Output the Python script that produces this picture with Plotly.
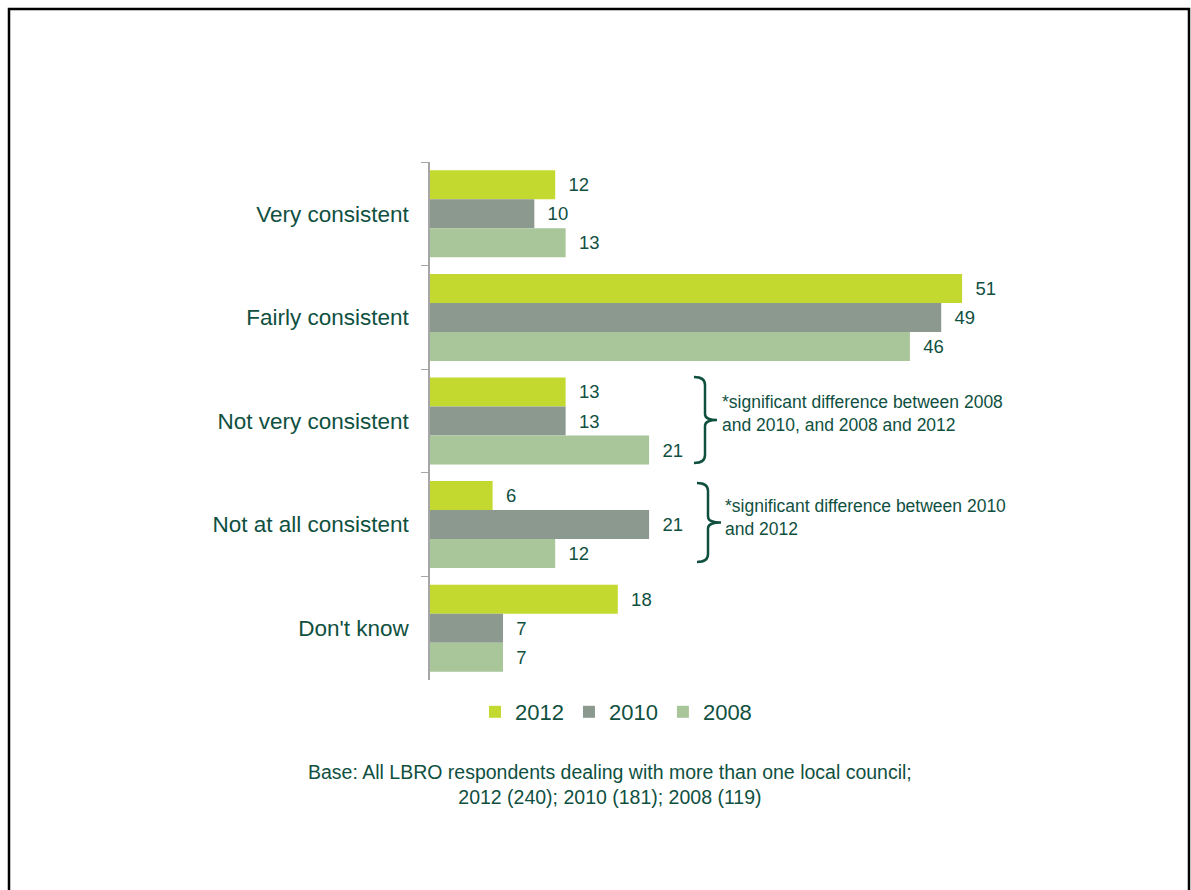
import plotly.graph_objects as go

# Survey responses (% of respondents)
categories = ["Very consistent", "Fairly consistent", "Not very consistent",
              "Not at all consistent", "Don't know"]
years = ["2012", "2010", "2008"]
values_2012 = [12, 51, 13, 6, 18]
values_2010 = [10, 49, 13, 21, 7]
values_2008 = [13, 46, 21, 12, 7]
series = [values_2012, values_2010, values_2008]
colors = ["#C3D92F", "#8B998F", "#A9C59A"]

TEXT = "#10503F"
FONT = "Liberation Sans, Arial, sans-serif"

W, H = 1191, 890
L, R, T, B = 430, 135, 162, 210
PW, PH = W - L - R, H - T - B


def px(x):
    return (x - L) / PW


def py(y):
    return (H - B - y) / PH


fig = go.Figure()
for name, vals, col in zip(years, series, colors):
    fig.add_trace(go.Bar(
        y=categories, x=vals, name=name, orientation="h",
        marker=dict(color=col, line=dict(width=0)),
        text=vals, texttemplate="  %{x}", textposition="outside",
        textfont=dict(size=18.5, color=TEXT, family=FONT),
        cliponaxis=False,
    ))


def brace(x0, y0, y1, tip):
    ym = (y0 + y1) / 2
    xs = x0 + 11
    pts = [
        f"M {px(x0)},{py(y0)}",
        f"Q {px(xs)},{py(y0)} {px(xs)},{py(y0 + 8)}",
        f"L {px(xs)},{py(ym - 6)}",
        f"Q {px(xs)},{py(ym)} {px(tip)},{py(ym)}",
        f"Q {px(xs)},{py(ym)} {px(xs)},{py(ym + 6)}",
        f"L {px(xs)},{py(y1 - 8)}",
        f"Q {px(xs)},{py(y1)} {px(x0)},{py(y1)}",
    ]
    return " ".join(pts)


shapes = [
    dict(type="path", xref="paper", yref="paper", path=brace(694, 377, 463, 717),
         line=dict(color=TEXT, width=2.5)),
    dict(type="path", xref="paper", yref="paper", path=brace(697, 483, 562, 721),
         line=dict(color=TEXT, width=2.5)),
    # outer frame
    dict(type="rect", xref="paper", yref="paper",
         x0=px(9), x1=px(1189), y0=py(9), y1=py(900),
         line=dict(color="black", width=2.5)),
]

annotations = [
    dict(xref="paper", yref="paper", x=px(720), y=py(413), xanchor="left", yanchor="middle",
         text="*significant difference between 2008<br>and 2010, and 2008 and 2012",
         showarrow=False, align="left", font=dict(size=17.5, color=TEXT, family=FONT)),
    dict(xref="paper", yref="paper", x=px(723), y=py(517), xanchor="left", yanchor="middle",
         text="*significant difference between 2010<br>and 2012",
         showarrow=False, align="left", font=dict(size=17.5, color=TEXT, family=FONT)),
    dict(xref="paper", yref="paper", x=px(610), y=py(784), xanchor="center", yanchor="middle",
         text="Base: All LBRO respondents dealing with more than one local council;<br>2012 (240); 2010 (181); 2008 (119)",
         showarrow=False, align="center", font=dict(size=19.5, color=TEXT, family=FONT)),
]

fig.update_layout(
    width=W, height=H,
    margin=dict(l=L, r=R, t=T, b=B, autoexpand=False),
    paper_bgcolor="white", plot_bgcolor="white",
    barmode="group", bargap=0.16, bargroupgap=0,
    font=dict(family=FONT, color=TEXT),
    xaxis=dict(range=[0, 60], visible=False, fixedrange=True),
    yaxis=dict(autorange="reversed", tickson="boundaries", ticks="outside",
               ticklen=7, tickcolor="#A6A6A6", showline=True, linecolor="#A6A6A6",
               linewidth=1.5, showgrid=False, ticklabelstandoff=15,
               tickfont=dict(size=22.5, color=TEXT, family=FONT)),
    legend=dict(orientation="h", x=px(616), xanchor="center", y=py(712), yanchor="middle",
                font=dict(size=22, color=TEXT, family=FONT), itemwidth=30,
                traceorder="normal"),
    shapes=shapes, annotations=annotations,
    showlegend=True,
)

fig.write_html("out.html")
